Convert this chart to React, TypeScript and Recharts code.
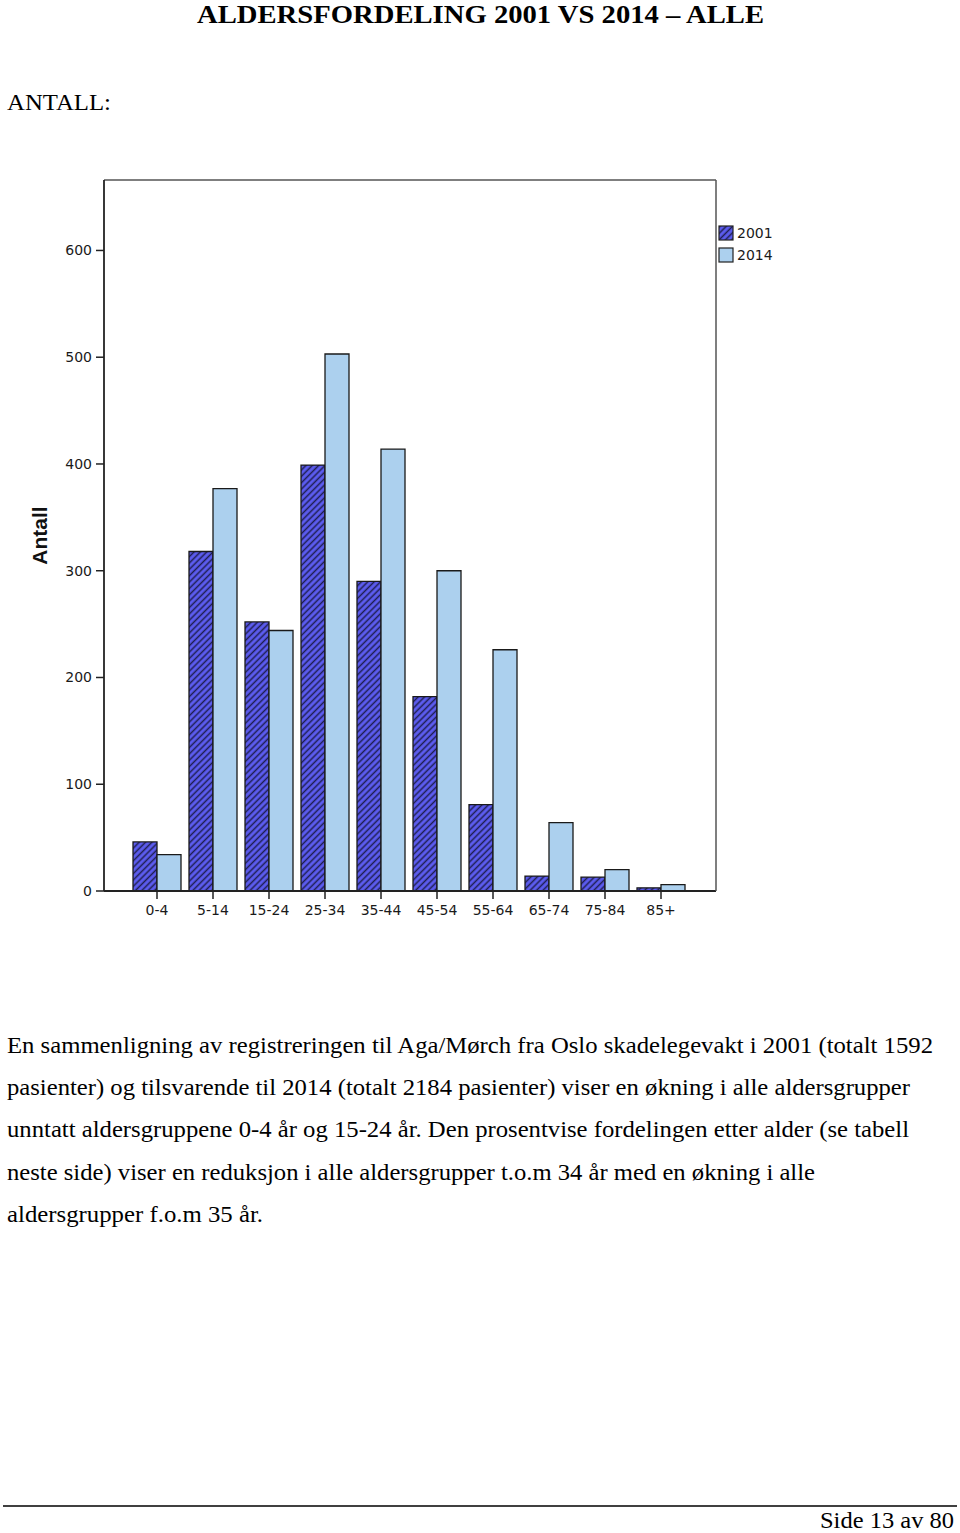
import React from 'react';
import { BarChart, Bar, XAxis, YAxis, Legend } from 'recharts';

const ageGroups = ['0-4', '5-14', '15-24', '25-34', '35-44', '45-54', '55-64', '65-74', '75-84', '85+'];
const counts2001 = [46, 318, 252, 399, 290, 182, 81, 14, 13, 3];
const counts2014 = [34, 377, 244, 503, 414, 300, 226, 64, 20, 6];
const yTicks = [0, 100, 200, 300, 400, 500, 600];
const yMax = 666;
const seriesNames = ['2001', '2014'];

const titleText = 'ALDERSFORDELING 2001 VS 2014 \u2013 ALLE';
const subText = 'ANTALL:';
const paragraphLines = [
  'En sammenligning av registreringen til Aga/M\u00f8rch fra Oslo skadelegevakt i 2001 (totalt 1592',
  'pasienter) og tilsvarende til 2014 (totalt 2184 pasienter) viser en \u00f8kning i alle aldersgrupper',
  'unntatt aldersgruppene 0-4 \u00e5r og 15-24 \u00e5r. Den prosentvise fordelingen etter alder (se tabell',
  'neste side) viser en reduksjon i alle aldersgrupper t.o.m 34 \u00e5r med en \u00f8kning i alle',
  'aldersgrupper f.o.m 35 \u00e5r.',
];
const paragraphEnds = [933, 910, 909, 815, 263];
const footerText = 'Side 13 av 80';

const data = ageGroups.map((g, i) => ({ group: g, y2001: counts2001[i], y2014: counts2014[i] }));

const COLOR_2001 = '#5c5cf0';
const HATCH_2001 = '#1e1e50';
const COLOR_2014 = '#acd0ee';
const TICK_FONT = { fontFamily: 'DejaVu Sans', fontSize: 14, fill: '#1a1a1a' };
const SERIF = "'Liberation Serif', 'Times New Roman', serif";

const renderLegend = (props: any) => {
  const payload = props.payload || [];
  return (
    <div style={{ display: 'flex', flexDirection: 'column' }}>
      {payload.map((entry: any, i: number) => (
        <div key={i} style={{ display: 'flex', alignItems: 'center', height: 22 }}>
          <svg width={16} height={16} style={{ display: 'block' }}>
            <rect
              x={1}
              y={1}
              width={14}
              height={14}
              fill={entry.dataKey === 'y2001' ? 'url(#hatch2001)' : COLOR_2014}
              stroke="#222"
              strokeWidth={1.2}
            />
          </svg>
          <span style={{ fontFamily: 'DejaVu Sans', fontSize: 14, color: '#1a1a1a', marginLeft: 3 }}>{entry.value}</span>
        </div>
      ))}
    </div>
  );
};

const AntallLabel = (props: any) => {
  const vb = props.viewBox || { x: 0, y: 0, width: 0, height: 0 };
  const cx = vb.x + 15;
  const cy = vb.y + vb.height / 2;
  return (
    <text
      x={cx}
      y={cy}
      transform={`rotate(-90 ${cx} ${cy})`}
      textAnchor="middle"
      dominantBaseline="central"
      fontFamily="Liberation Sans"
      fontWeight="bold"
      fontSize={21}
      fill="#111"
    >
      Antall
    </text>
  );
};

export default function App() {
  return (
    <div style={{ position: 'absolute', left: 0, top: 0, width: 960, height: 1533, background: '#fff' }}>
      <svg width={0} height={0} style={{ position: 'absolute' }}>
        <defs>
          <pattern id="hatch2001" patternUnits="userSpaceOnUse" width={4.5} height={4.5} patternTransform="rotate(45)">
            <rect width={4.5} height={4.5} fill={COLOR_2001} />
            <line x1={2.25} y1={0} x2={2.25} y2={4.5} stroke={HATCH_2001} strokeWidth={1.5} />
          </pattern>
        </defs>
      </svg>
      <svg width={960} height={1533} style={{ position: 'absolute', left: 0, top: 0 }}>
        <text x={197} y={23} fontFamily={SERIF} fontWeight="bold" fontSize={25} textLength={567} lengthAdjust="spacingAndGlyphs" fill="#000">
          {titleText}
        </text>
        <text x={7} y={110} fontFamily={SERIF} fontSize={23} textLength={104} lengthAdjust="spacingAndGlyphs" fill="#000">
          {subText}
        </text>
        {paragraphLines.map((line, i) => (
          <text
            key={i}
            x={7}
            y={1053 + i * 42.2}
            fontFamily={SERIF}
            fontSize={23}
            textLength={paragraphEnds[i] - 7}
            lengthAdjust="spacingAndGlyphs"
            fill="#000"
          >
            {line}
          </text>
        ))}
        <line x1={3} x2={957} y1={1506} y2={1506} stroke="#000" strokeWidth={1.6} />
        <text x={954} y={1528} textAnchor="end" fontFamily={SERIF} fontSize={23} textLength={134} lengthAdjust="spacingAndGlyphs" fill="#000">
          {footerText}
        </text>
      </svg>
      <div style={{ position: 'absolute', left: 0, top: 170 }}>
        <BarChart
          width={800}
          height={760}
          data={data}
          margin={{ top: 9, right: 23, bottom: 9, left: 24 }}
          barCategoryGap={4}
          barGap={0}
        >
          <XAxis
            dataKey="group"
            interval={0}
            padding={{ left: 25, right: 27 }}
            height={30}
            tickSize={8}
            tickMargin={6}
            tick={TICK_FONT}
            tickLine={{ stroke: '#222', strokeWidth: 1.5 }}
            axisLine={{ stroke: '#222', strokeWidth: 1.8 }}
          />
          <XAxis
            xAxisId="top"
            orientation="top"
            dataKey="group"
            height={1}
            tick={false}
            tickLine={false}
            padding={{ left: 25, right: 27 }}
            axisLine={{ stroke: '#555', strokeWidth: 1.5 }}
          />
          <YAxis
            domain={[0, yMax]}
            ticks={yTicks}
            width={80}
            tickSize={8}
            tickMargin={4}
            tick={TICK_FONT}
            tickLine={{ stroke: '#222', strokeWidth: 1.5 }}
            axisLine={{ stroke: '#222', strokeWidth: 1.8 }}
            label={(p: any) => <AntallLabel {...p} />}
          />
          <YAxis
            yAxisId="right"
            orientation="right"
            domain={[0, yMax]}
            width={1}
            tick={false}
            tickLine={false}
            axisLine={{ stroke: '#555', strokeWidth: 1.5 }}
          />
          <Legend
            layout="vertical"
            align="right"
            verticalAlign="top"
            width={60}
            content={renderLegend}
            wrapperStyle={{ top: 52, left: 718, right: 'auto' }}
          />
          <Bar dataKey="y2001" name={seriesNames[0]} fill="url(#hatch2001)" stroke="#1a1a1a" strokeWidth={1.3} isAnimationActive={false} />
          <Bar dataKey="y2014" name={seriesNames[1]} fill={COLOR_2014} stroke="#1a1a1a" strokeWidth={1.3} isAnimationActive={false} />
        </BarChart>
      </div>
    </div>
  );
}
